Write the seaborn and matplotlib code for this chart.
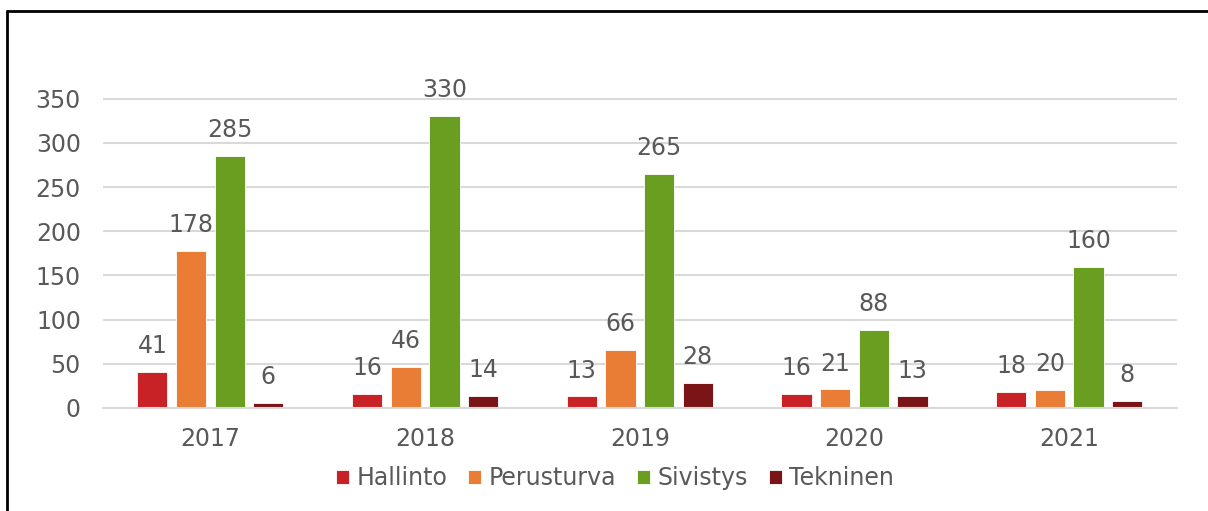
import pandas as pd
import seaborn as sns
import matplotlib.pyplot as plt
from matplotlib.lines import Line2D

vuodet = ['2017', '2018', '2019', '2020', '2021']
hallinto = [41, 16, 13, 16, 18]
perusturva = [178, 46, 66, 21, 20]
sivistys = [285, 330, 265, 88, 160]
tekninen = [6, 14, 28, 13, 8]

sarjat = ['Hallinto', 'Perusturva', 'Sivistys', 'Tekninen']
varit = ['#C82226', '#E97D35', '#6A9E20', '#7B1416']


def luo_dataframe():
    rivit = []
    for nimi, arvot in zip(sarjat, [hallinto, perusturva, sivistys, tekninen]):
        for vuosi, arvo in zip(vuodet, arvot):
            rivit.append({'Vuosi': vuosi, 'Toimiala': nimi, 'Arvo': arvo})
    return pd.DataFrame(rivit)


def piirra(df):
    sns.set_theme(style='white')
    plt.rcParams['font.family'] = ['DejaVu Sans']
    teksti = '#595959'

    fig = plt.figure(figsize=(12.08, 5.11), dpi=100)
    ax = fig.add_axes([0.0853, 0.2016, 0.8887, 0.6064])

    sns.barplot(data=df, x='Vuosi', y='Arvo', hue='Toimiala', order=vuodet,
                hue_order=sarjat, palette=varit, width=0.72, gap=0.22,
                edgecolor='white', linewidth=0.6, saturation=1, ax=ax)

    for cont in ax.containers:
        ax.bar_label(cont, padding=10, fontsize=17, color=teksti)

    ax.set_ylim(0, 350.6)
    ax.set_xlim(-0.5, 4.5)
    ax.set_yticks(range(0, 351, 50))
    ax.yaxis.grid(True, color='#D9D9D9', linewidth=1.5)
    ax.set_axisbelow(True)
    for s in ['top', 'right', 'left']:
        ax.spines[s].set_visible(False)
    ax.spines['bottom'].set_color('#D9D9D9')
    ax.spines['bottom'].set_linewidth(1.5)
    ax.tick_params(axis='both', length=0, labelsize=17, colors=teksti)
    ax.tick_params(axis='y', pad=16)
    ax.tick_params(axis='x', pad=14)
    ax.set_xlabel('')
    ax.set_ylabel('')

    ax.legend(loc='center', bbox_to_anchor=(0.477, -0.226), ncol=4, frameon=False,
              fontsize=17, labelcolor=teksti, handlelength=0.55, handleheight=0.55,
              handletextpad=0.3, columnspacing=0.9)

    # kehys: vain vasen ja yläreuna näkyvät
    fig.add_artist(Line2D([7 / 1208, 7 / 1208], [0, 1 - 11 / 511], color='black',
                          linewidth=2, transform=fig.transFigure))
    fig.add_artist(Line2D([7 / 1208, 1], [1 - 11 / 511, 1 - 11 / 511], color='black',
                          linewidth=2, transform=fig.transFigure))

    fig.savefig('out.png', dpi=100)


def main():
    df = luo_dataframe()
    piirra(df)


if __name__ == "__main__":
    main()
